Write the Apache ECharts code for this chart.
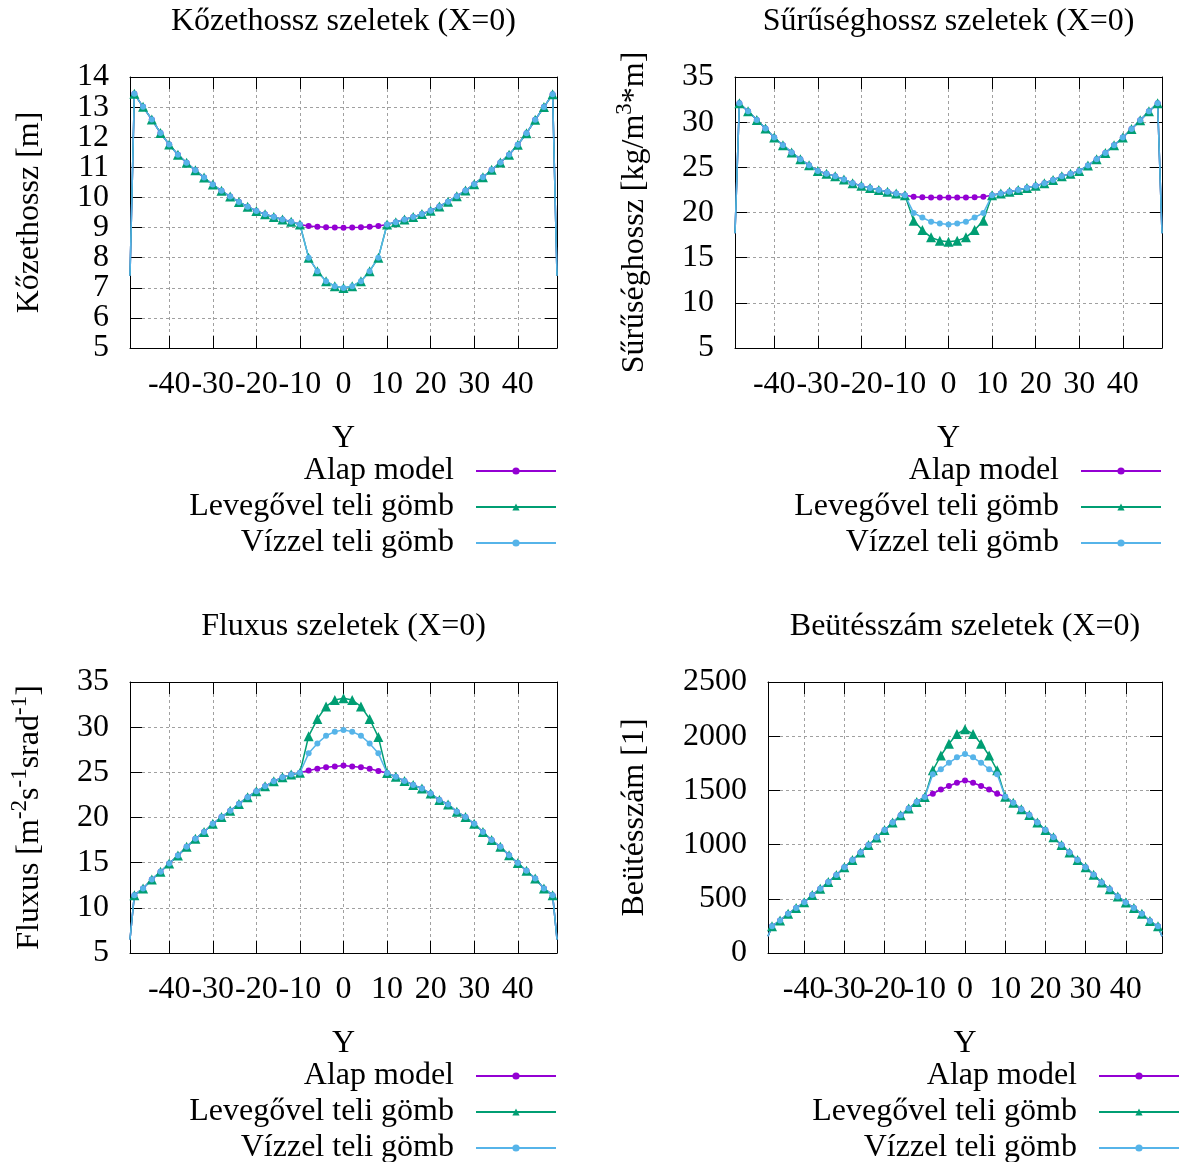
<!DOCTYPE html>
<html lang="hu">
<head>
<meta charset="UTF-8">
<title>Szeletek (X=0)</title>
<script src="https://cdn.jsdelivr.net/npm/echarts@6/dist/echarts.min.js"></script>
<style>
  html, body { margin: 0; padding: 0; background: #fff; }
  #chart_div { width: 1182px; height: 1162px; }
</style>
</head>
<body>
<div id="chart_div"></div>
<script type="text/javascript">
// Y pozíciók (a szélső ±49 pont jel nélkül)
var yPoz = [-49,-48,-46,-44,-42,-40,-38,-36,-34,-32,-30,-28,-26,-24,-22,-20,-18,-16,-14,-12,-10,
            -8,-6,-4,-2,0,2,4,6,8,
            10,12,14,16,18,20,22,24,26,28,30,32,34,36,38,40,42,44,46,48,49];

// középső rész (Y = -8 .. 8) a gömbös modelleknél
var kozepX = [-8,-6,-4,-2,0,2,4,6,8];

// Kőzethossz [m]
var kozetAlap = [7.4,13.44,13.01,12.59,12.14,11.76,11.42,11.15,10.9,10.66,10.43,10.22,10.03,9.85,9.69,9.55,9.44,9.35,9.27,9.19,9.1,
                 9.05,9.03,9.01,9.0,8.99,9.0,9.01,9.03,9.05,
                 9.1,9.18,9.27,9.35,9.45,9.56,9.7,9.86,10.04,10.23,10.44,10.67,10.92,11.16,11.42,11.75,12.13,12.58,13.0,13.43,7.4];
var kozetLevego = [8.0,7.55,7.22,7.05,6.99,7.05,7.22,7.55,8.0];
var kozetViz = [8.0,7.55,7.22,7.05,6.99,7.05,7.22,7.55,8.0];

// Sűrűséghossz [kg/m3*m]
var suruAlap = [17.7,32.1,31.2,30.25,29.3,28.3,27.45,26.65,25.9,25.22,24.6,24.3,24.0,23.65,23.25,22.95,22.7,22.5,22.3,22.1,21.9,
                21.75,21.7,21.66,21.65,21.65,21.65,21.66,21.7,21.75,
                21.9,22.1,22.3,22.5,22.72,22.95,23.25,23.6,24.0,24.3,24.6,25.2,25.9,26.6,27.45,28.3,29.25,30.2,31.2,32.1,17.7];
var suruLevego = [19.1,18.05,17.25,16.87,16.75,16.87,17.25,18.05,19.1];
var suruViz = [19.95,19.45,18.97,18.78,18.67,18.78,18.97,19.45,19.95];

// Fluxus
var fluxAlap = [6.5,11.4,12.15,13.15,14.0,14.9,15.8,16.75,17.65,18.4,19.3,20.05,20.75,21.5,22.25,22.9,23.45,24.0,24.45,24.75,24.95,
                25.2,25.4,25.57,25.65,25.75,25.65,25.57,25.4,25.15,
                24.92,24.5,24.05,23.6,23.2,22.65,21.95,21.45,20.65,20.05,19.3,18.4,17.5,16.75,15.82,14.95,14.1,13.25,12.15,11.4,6.5];
var fluxLevego = [29.0,30.9,32.3,33.0,33.2,33.0,32.3,30.9,28.9];
var fluxViz = [27.1,28.2,29.05,29.5,29.7,29.5,29.05,28.2,27.1];

// Beütésszám [1]
var beutAlap = [155,246,300,362,414,468,535,592,655,720,790,858,927,997,1066,1135,1203,1270,1333,1393,1440,
                1470,1508,1540,1570,1592,1570,1540,1508,1470,
                1442,1387,1325,1273,1203,1135,1068,997,927,859,792,721,651,589,522,467,414,362,295,246,155];
var beutLevego = [1685,1822,1930,2020,2065,2020,1930,1822,1685];
var beutViz = [1650,1695,1755,1805,1835,1805,1755,1695,1650];

var nevek = ['Alap model', 'Levegővel teli gömb', 'Vízzel teli gömb'];
var szinek = ['#9400d3', '#009e73', '#56b4e9'];
var jelek = ['circle', 'triangle', 'circle'];
var jelMeret = [6, 10, 6];

var betu = "'Liberation Serif', 'Times New Roman', serif";

function osszerak(alap, kozepe) {
    var out = alap.slice();
    var start = yPoz.indexOf(kozepX[0]);
    for (var i = 0; i < kozepe.length; i++) out[start + i] = kozepe[i];
    return out;
}

function pontok(ys) {
    return yPoz.map(function (x, i) {
        var p = {value: [x, ys[i]]};
        if (i === 0 || i === yPoz.length - 1) p.symbol = 'none';
        return p;
    });
}

var panelek = [
    {cim: 'Kőzethossz szeletek (X=0)', ynev: 'Kőzethossz [m]', min: 5, max: 14, lepes: 1,
     grid: {left: 130, top: 77, width: 427, height: 271}, nameGap: 84, nevSor: 32, leg: {right: 625, top: 455},
     adat: [kozetAlap, osszerak(kozetAlap, kozetLevego), osszerak(kozetAlap, kozetViz)]},
    {cim: 'Sűrűséghossz szeletek (X=0)', ynev: 'Sűrűséghossz [kg/m{s|3}*m]', min: 5, max: 35, lepes: 5,
     grid: {left: 735, top: 77, width: 427, height: 271}, nameGap: 78, nevSor: 44, leg: {right: 20, top: 455},
     adat: [suruAlap, osszerak(suruAlap, suruLevego), osszerak(suruAlap, suruViz)]},
    {cim: 'Fluxus szeletek (X=0)', ynev: 'Fluxus [m{s|-2}s{s|-1}srad{s|-1}]', min: 5, max: 35, lepes: 5,
     grid: {left: 130, top: 682, width: 427, height: 271}, nameGap: 78, nevSor: 44, leg: {right: 625, top: 1060},
     adat: [fluxAlap, osszerak(fluxAlap, fluxLevego), osszerak(fluxAlap, fluxViz)]},
    {cim: 'Beütésszám szeletek (X=0)', ynev: 'Beütésszám [1]', min: 0, max: 2500, lepes: 500,
     grid: {left: 768, top: 682, width: 394, height: 271}, nameGap: 117, nevSor: 32, leg: {right: 2, top: 1060},
     adat: [beutAlap, osszerak(beutAlap, beutLevego), osszerak(beutAlap, beutViz)]}
];

var szoveg = {fontFamily: betu, fontSize: 32, color: '#000'};
var fekete = {color: '#000', width: 1};
var racs = {show: true, lineStyle: {color: '#a0a0a0', width: 1, type: [3, 3]}};

var options = {
    backgroundColor: '#fff',
    animation: false,
    title: [], grid: [], xAxis: [], yAxis: [], legend: [], series: []
};

// y feliratok két tengelyre bontva (páros / páratlan osztás), hogy egyik se rejtődjön el
function feliratSzuro(p, paros) {
    return function (v) {
        var k = Math.round((v - p.min) / p.lepes);
        return (k % 2 === 0) === paros ? String(v) : '';
    };
}

panelek.forEach(function (p, i) {
    var g = p.grid;
    options.grid.push({left: g.left, top: g.top, width: g.width, height: g.height, containLabel: false});
    options.title.push({
        text: p.cim, left: g.left + g.width / 2, top: g.top - 71, textAlign: 'center', padding: 0,
        textStyle: {fontFamily: betu, fontSize: 32, fontWeight: 'normal', color: '#000'}
    });
    options.xAxis.push({
        type: 'value', gridIndex: i, min: -49, max: 49, splitNumber: 10,
        name: 'Y', nameLocation: 'middle', nameGap: 75, nameTextStyle: szoveg,
        axisLine: {onZero: false, lineStyle: fekete},
        axisTick: {inside: true, length: 12, lineStyle: fekete},
        axisLabel: {margin: 21, showMinLabel: false, showMaxLabel: false, hideOverlap: false,
                    fontFamily: betu, fontSize: 32, color: '#000'},
        splitLine: racs
    });
    options.yAxis.push({
        type: 'value', gridIndex: i, min: p.min, max: p.max, interval: p.lepes,
        name: p.ynev, nameLocation: 'middle', nameGap: p.nameGap,
        nameTextStyle: {fontFamily: betu, fontSize: 32, color: '#000', lineHeight: p.nevSor,
                        rich: {s: {fontFamily: betu, fontSize: 23, lineHeight: 23, verticalAlign: 'top', color: '#000'}}},
        axisLine: {onZero: false, lineStyle: fekete},
        axisTick: {inside: true, length: 12, lineStyle: fekete},
        axisLabel: {margin: 21, showMinLabel: true, showMaxLabel: true, hideOverlap: false,
                    fontFamily: betu, fontSize: 32, color: '#000',
                    formatter: feliratSzuro(p, true)},
        splitLine: racs
    });
    options.legend.push({
        orient: 'vertical', align: 'right', right: p.leg.right, top: p.leg.top, height: 130, padding: 0,
        itemWidth: 80, itemHeight: 9, itemGap: 4, selectedMode: false,
        textStyle: {fontFamily: betu, fontSize: 32, lineHeight: 26, color: '#000', padding: [0, 17, 0, 0]},
        data: nevek
    });
    p.adat.forEach(function (ys, k) {
        options.series.push({
            name: nevek[k], type: 'line', xAxisIndex: i, yAxisIndex: i,
            data: pontok(ys),
            symbol: jelek[k], symbolSize: jelMeret[k],
            lineStyle: {color: szinek[k], width: 1.5},
            itemStyle: {color: szinek[k]},
            emphasis: {disabled: true}
        });
    });
});

// tükrözött tengelyek (felül és jobbra), csak tickek; plusz a páratlan y feliratok
panelek.forEach(function (p, i) {
    options.xAxis.push({
        type: 'value', gridIndex: i, position: 'top', min: -49, max: 49, splitNumber: 10,
        axisLine: {onZero: false, lineStyle: fekete},
        axisTick: {inside: true, length: 12, lineStyle: fekete},
        axisLabel: {show: false}, splitLine: {show: false}
    });
    options.yAxis.push({
        type: 'value', gridIndex: i, position: 'right', min: p.min, max: p.max, interval: p.lepes,
        axisLine: {onZero: false, lineStyle: fekete},
        axisTick: {inside: true, length: 12, lineStyle: fekete},
        axisLabel: {show: false}, splitLine: {show: false}
    });
    options.yAxis.push({
        type: 'value', gridIndex: i, position: 'left', offset: 0, min: p.min, max: p.max, interval: p.lepes,
        axisLine: {show: false}, axisTick: {show: false}, splitLine: {show: false},
        axisLabel: {margin: 21, showMinLabel: true, showMaxLabel: true, hideOverlap: false,
                    fontFamily: betu, fontSize: 32, color: '#000',
                    formatter: feliratSzuro(p, false)}
    });
});

var chart = echarts.init(document.getElementById('chart_div'));
chart.setOption(options);
</script>
</body>
</html>
